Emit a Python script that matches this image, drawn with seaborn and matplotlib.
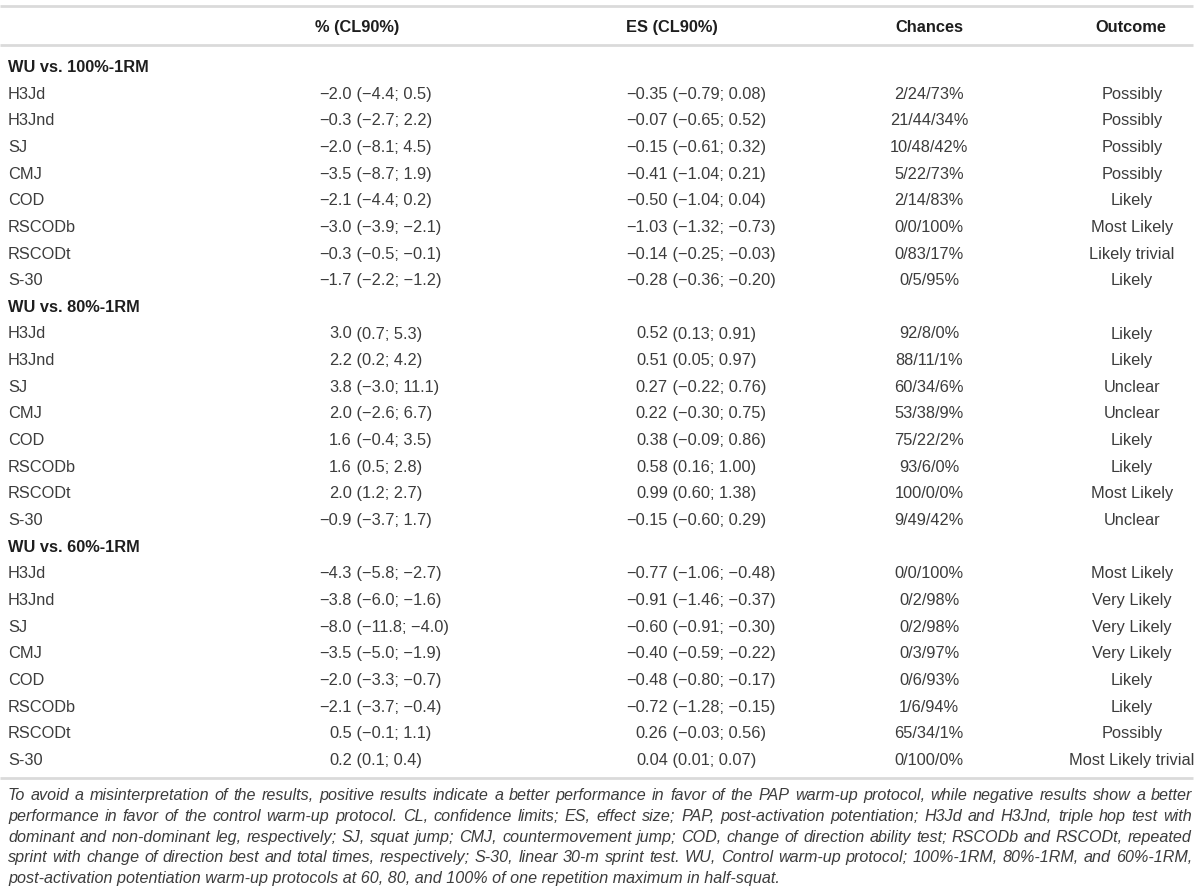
import matplotlib
matplotlib.use("Agg")
import matplotlib.pyplot as plt
import seaborn as sns

# ---------------- data ----------------
columns = ["% (CL90%)", "ES (CL90%)", "Chances", "Outcome"]
sections = ["WU vs. 100%-1RM", "WU vs. 80%-1RM", "WU vs. 60%-1RM"]
measures = ["H3Jd", "H3Jnd", "SJ", "CMJ", "COD", "RSCODb", "RSCODt", "S-30"]

# % change (mean, lower, upper) per section
pct_mean = [[-2.0, -0.3, -2.0, -3.5, -2.1, -3.0, -0.3, -1.7],
            [3.0, 2.2, 3.8, 2.0, 1.6, 1.6, 2.0, -0.9],
            [-4.3, -3.8, -8.0, -3.5, -2.0, -2.1, 0.5, 0.2]]
pct_lo = [[-4.4, -2.7, -8.1, -8.7, -4.4, -3.9, -0.5, -2.2],
          [0.7, 0.2, -3.0, -2.6, -0.4, 0.5, 1.2, -3.7],
          [-5.8, -6.0, -11.8, -5.0, -3.3, -3.7, -0.1, 0.1]]
pct_hi = [[0.5, 2.2, 4.5, 1.9, 0.2, -2.1, -0.1, -1.2],
          [5.3, 4.2, 11.1, 6.7, 3.5, 2.8, 2.7, 1.7],
          [-2.7, -1.6, -4.0, -1.9, -0.7, -0.4, 1.1, 0.4]]

# effect size (mean, lower, upper) per section
es_mean = [[-0.35, -0.07, -0.15, -0.41, -0.50, -1.03, -0.14, -0.28],
           [0.52, 0.51, 0.27, 0.22, 0.38, 0.58, 0.99, -0.15],
           [-0.77, -0.91, -0.60, -0.40, -0.48, -0.72, 0.26, 0.04]]
es_lo = [[-0.79, -0.65, -0.61, -1.04, -1.04, -1.32, -0.25, -0.36],
         [0.13, 0.05, -0.22, -0.30, -0.09, 0.16, 0.60, -0.60],
         [-1.06, -1.46, -0.91, -0.59, -0.80, -1.28, -0.03, 0.01]]
es_hi = [[0.08, 0.52, 0.32, 0.21, 0.04, -0.73, -0.03, -0.20],
         [0.91, 0.97, 0.76, 0.75, 0.86, 1.00, 1.38, 0.29],
         [-0.48, -0.37, -0.30, -0.22, -0.17, -0.15, 0.56, 0.07]]

# chances (%) beneficial / trivial / harmful
ch_pos = [[2, 21, 10, 5, 2, 0, 0, 0],
          [92, 88, 60, 53, 75, 93, 100, 9],
          [0, 0, 0, 0, 0, 1, 65, 0]]
ch_triv = [[24, 44, 48, 22, 14, 0, 83, 5],
           [8, 11, 34, 38, 22, 6, 0, 49],
           [0, 2, 2, 3, 6, 6, 34, 100]]
ch_neg = [[73, 34, 42, 73, 83, 100, 17, 95],
          [0, 1, 6, 9, 2, 0, 0, 42],
          [100, 98, 98, 97, 93, 94, 1, 0]]

outcome = [["Possibly", "Possibly", "Possibly", "Possibly", "Likely", "Most Likely",
            "Likely trivial", "Likely"],
           ["Likely", "Likely", "Unclear", "Unclear", "Likely", "Likely",
            "Most Likely", "Unclear"],
           ["Most Likely", "Very Likely", "Very Likely", "Very Likely", "Likely",
            "Likely", "Possibly", "Most Likely trivial"]]

footnote_lines = [
    "To avoid a misinterpretation of the results, positive results indicate a better performance in favor of the PAP warm-up protocol, while negative results show a better",
    "performance in favor of the control warm-up protocol. CL, confidence limits; ES, effect size; PAP, post-activation potentiation; H3Jd and H3Jnd, triple hop test with",
    "dominant and non-dominant leg, respectively; SJ, squat jump; CMJ, countermovement jump; COD, change of direction ability test; RSCODb and RSCODt, repeated",
    "sprint with change of direction best and total times, respectively; S-30, linear 30-m sprint test. WU, Control warm-up protocol; 100%-1RM, 80%-1RM, and 60%-1RM,",
    "post-activation potentiation warm-up protocols at 60, 80, and 100% of one repetition maximum in half-squat.",
]

# ---------------- style ----------------
sns.set_theme(style="white")
plt.rcParams["font.family"] = ["Liberation Sans", "DejaVu Sans"]

W, H = 1200, 894
fig = plt.figure(figsize=(W / 100, H / 100), dpi=100)
ax = fig.add_axes([0, 0, 1, 1])
ax.set_xlim(0, W)
ax.set_ylim(H, 0)
ax.axis("off")

FS = 11.8
TXT = "#3c3c3c"
HDR = "#1e1e1e"
RULE = "#dadada"
base_off = 6.0  # baseline offset from visual centre


def fmt(v, d):
    s = f"{v:.{d}f}"
    return s.replace("-", "\u2212")


# rules
for yr in (6, 45, 778):
    ax.hlines(yr, 0, 1193, color=RULE, lw=2.0)

# header
hy = 26 + base_off
ax.text(315, hy, columns[0], ha="left", va="baseline", fontsize=FS, weight="bold", color=HDR)
ax.text(626, hy, columns[1], ha="left", va="baseline", fontsize=FS, weight="bold", color=HDR)
ax.text(929, hy, columns[2], ha="center", va="baseline", fontsize=FS, weight="bold", color=HDR)
ax.text(1131, hy, columns[3], ha="center", va="baseline", fontsize=FS, weight="bold", color=HDR)

y0, dy = 66, 26.65
k = 0
for s, sec in enumerate(sections):
    y = y0 + k * dy + base_off
    ax.text(8, y, sec, ha="left", va="baseline", fontsize=FS, weight="bold", color=HDR)
    k += 1
    for i, m in enumerate(measures):
        y = y0 + k * dy + base_off
        ax.text(8, y, m, ha="left", va="baseline", fontsize=FS, color=TXT)
        ax.text(352, y, fmt(pct_mean[s][i], 1), ha="right", va="baseline", fontsize=FS, color=TXT)
        ax.text(352, y, f" ({fmt(pct_lo[s][i], 1)}; {fmt(pct_hi[s][i], 1)})",
                ha="left", va="baseline", fontsize=FS, color=TXT)
        ax.text(668, y, fmt(es_mean[s][i], 2), ha="right", va="baseline", fontsize=FS, color=TXT)
        ax.text(668, y, f" ({fmt(es_lo[s][i], 2)}; {fmt(es_hi[s][i], 2)})",
                ha="left", va="baseline", fontsize=FS, color=TXT)
        ax.text(929, y, f"{ch_pos[s][i]}/{ch_triv[s][i]}/{ch_neg[s][i]}%",
                ha="center", va="baseline", fontsize=FS, color=TXT)
        ax.text(1132, y, outcome[s][i], ha="center", va="baseline", fontsize=FS, color=TXT)
        k += 1

# footnote, justified
renderer = fig.canvas.get_renderer()
FN = 11.0
# calibrate size so the last (unjustified) line ends near x=778
probe = ax.text(8, 880, footnote_lines[-1], fontsize=FN, style="italic")
wpx = probe.get_window_extent(renderer).width
probe.remove()
FN = FN * 770.0 / wpx

left, right = 8, 1192
fy0, fdy = 800, 20.8
for li, line in enumerate(footnote_lines):
    yb = fy0 + li * fdy
    if li == len(footnote_lines) - 1:
        ax.text(left, yb, line, ha="left", va="baseline", fontsize=FN,
                style="italic", color=TXT)
        continue
    words = line.split(" ")
    objs, widths = [], []
    for w in words:
        t = ax.text(0, yb, w, ha="left", va="baseline", fontsize=FN,
                    style="italic", color=TXT)
        objs.append(t)
        widths.append(t.get_window_extent(renderer).width)
    gap = (right - left - sum(widths)) / (len(words) - 1)
    x = left
    for t, wd in zip(objs, widths):
        t.set_x(x)
        x += wd + gap

fig.savefig("out.png", dpi=100)
